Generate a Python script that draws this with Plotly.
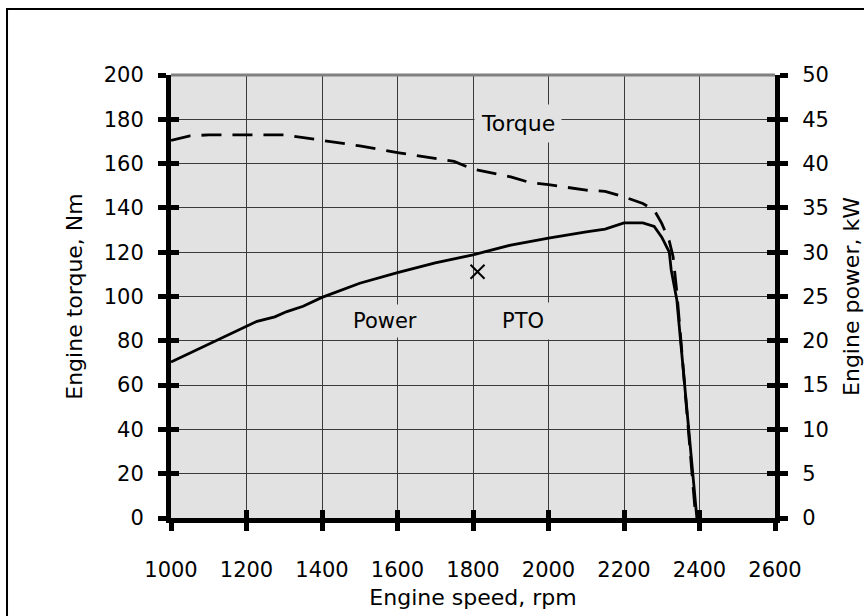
import plotly.graph_objects as go

# ---- data ----
torque_rpm = [1000, 1050, 1100, 1200, 1300, 1400, 1500, 1600, 1700, 1750, 1800, 1900,
              1950, 2000, 2100, 2150, 2200, 2250, 2280, 2300, 2320, 2330, 2340, 2350, 2370, 2390]
torque_nm = [170.5, 172.5, 173, 173, 173, 170.5, 168, 165, 162.5, 161, 157.5, 154,
             151.5, 150.5, 148, 147.5, 145, 142, 139, 133, 125, 118, 102, 81, 40, 0]

power_rpm = [1000, 1110, 1200, 1228, 1275, 1307, 1350, 1400, 1500, 1600, 1700, 1800, 1900,
             2000, 2100, 2150, 2200, 2250, 2280, 2300, 2320, 2325, 2340, 2350, 2370, 2393]
power_kw = [17.6, 19.8, 21.6, 22.2, 22.7, 23.3, 23.9, 24.9, 26.5, 27.7, 28.8, 29.7, 30.8,
            31.6, 32.3, 32.6, 33.3, 33.3, 32.9, 31.7, 30.0, 28.0, 24.6, 20.0, 10.0, 0]

pto_rpm = [1812]
pto_kw = [27.8]

x_ticks = [1000, 1200, 1400, 1600, 1800, 2000, 2200, 2400, 2600]
y_left_ticks = list(range(0, 201, 20))
y_right_ticks = list(range(0, 51, 5))

FONT = "DejaVu Sans"
BG = "#e2e2e2"
GRID = "#3a3a3a"

fig = go.Figure()
fig.add_trace(go.Scatter(x=torque_rpm, y=torque_nm, mode="lines", xaxis="x", yaxis="y",
                         line=dict(color="black", width=2.8, dash="20px,11px"),
                         showlegend=False, hoverinfo="skip"))
fig.add_trace(go.Scatter(x=power_rpm, y=power_kw, mode="lines", xaxis="x", yaxis="y2",
                         line=dict(color="black", width=2.8),
                         showlegend=False, hoverinfo="skip"))
fig.add_trace(go.Scatter(x=pto_rpm, y=pto_kw, mode="markers", xaxis="x", yaxis="y2",
                         marker=dict(symbol="x-thin", size=14, line=dict(color="black", width=2)),
                         showlegend=False, hoverinfo="skip"))
# helper traces for overlay axes (inside tick marks)
fig.add_trace(go.Scatter(x=[None], y=[None], xaxis="x2", yaxis="y3", showlegend=False, hoverinfo="skip"))
fig.add_trace(go.Scatter(x=[None], y=[None], xaxis="x2", yaxis="y4", showlegend=False, hoverinfo="skip"))

tickfont = dict(family=FONT, size=21, color="black")
titlefont = dict(family=FONT, size=22, color="black")

fig.update_layout(
    width=864, height=616,
    margin=dict(l=171, r=89, t=75, b=98, autoexpand=False),
    paper_bgcolor="white", plot_bgcolor=BG,
    xaxis=dict(range=[1000, 2600], tickvals=x_ticks, ticktext=[str(v) for v in x_ticks],
               ticks="outside", ticklen=8, tickwidth=5, tickcolor="black",
               showline=True, linewidth=5, linecolor="black", automargin=False,
               showgrid=True, gridcolor=GRID, gridwidth=1, zeroline=False,
               tickfont=tickfont, ticklabelstandoff=21,
               title=dict(text="Engine speed, rpm", font=titlefont, standoff=10)),
    xaxis2=dict(range=[1000, 2600], tickvals=x_ticks, overlaying="x", anchor="y", side="bottom",
                ticks="inside", ticklen=8, tickwidth=5, tickcolor="black", automargin=False,
                showticklabels=False, showgrid=False, showline=False, zeroline=False),
    yaxis=dict(range=[0, 200], tickvals=y_left_ticks, ticks="outside", ticklen=8, tickwidth=5,
               tickcolor="black", showline=True, linewidth=5, linecolor="black", automargin=False,
               showgrid=True, gridcolor=GRID, gridwidth=1, zeroline=False,
               tickfont=tickfont, ticklabelstandoff=10,
               title=dict(text="Engine torque, Nm", font=titlefont, standoff=17)),
    yaxis2=dict(range=[0, 50], tickvals=y_right_ticks, overlaying="y", side="right", anchor="x",
                ticks="outside", ticklen=8, tickwidth=5, tickcolor="black", automargin=False,
                showline=True, linewidth=5, linecolor="black",
                showgrid=False, zeroline=False, tickfont=tickfont, ticklabelstandoff=10,
                title=dict(text="Engine power, kW", font=titlefont, standoff=26)),
    yaxis3=dict(range=[0, 200], tickvals=y_left_ticks, overlaying="y", side="left", anchor="x2",
                ticks="inside", ticklen=8, tickwidth=5, tickcolor="black", automargin=False,
                showticklabels=False, showgrid=False, showline=False, zeroline=False),
    yaxis4=dict(range=[0, 50], tickvals=y_right_ticks, overlaying="y", side="right", anchor="x2",
                ticks="inside", ticklen=8, tickwidth=5, tickcolor="black", automargin=False,
                showticklabels=False, showgrid=False, showline=False, zeroline=False),
    annotations=[
        dict(x=1920, y=178, xref="x", yref="y", text="Torque", showarrow=False,
             font=dict(family=FONT, size=22, color="black"), bgcolor=BG, borderpad=6),
        dict(x=1567, y=89, xref="x", yref="y", text="Power", showarrow=False,
             font=dict(family=FONT, size=21, color="black"), bgcolor=BG, borderpad=4),
        dict(x=1933, y=89, xref="x", yref="y", text="PTO", showarrow=False,
             font=dict(family=FONT, size=21, color="black"), bgcolor=BG, borderpad=6),
    ],
    shapes=[
        # gray top edge of plot area
        dict(type="line", xref="paper", yref="paper", x0=0, x1=1, y0=1, y1=1,
             line=dict(color="#808080", width=3), layer="above"),
        # outer frame of the figure
        dict(type="rect", xref="paper", yref="paper", x0=-0.2715, x1=1.2, y0=-0.3, y1=1.149,
             line=dict(color="black", width=2), fillcolor="rgba(0,0,0,0)", layer="above"),
    ],
)

fig.write_html("out.html")
